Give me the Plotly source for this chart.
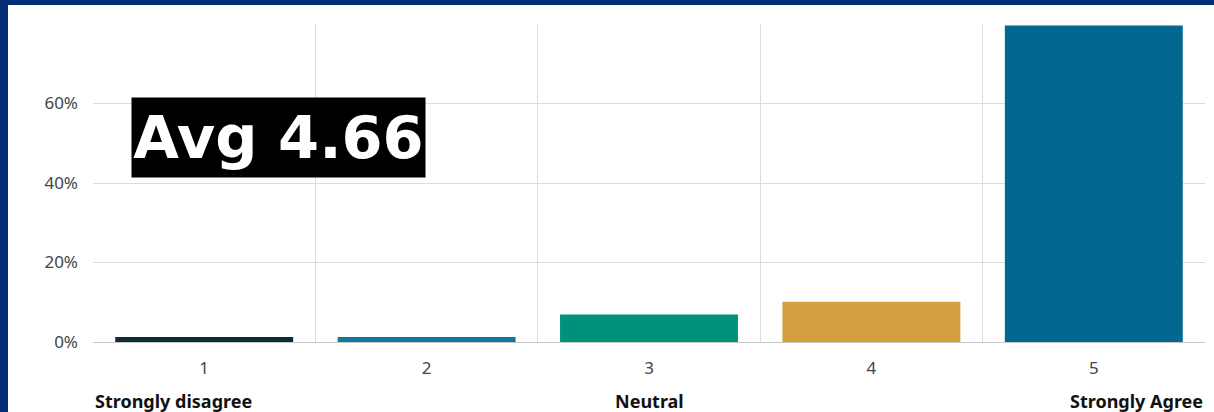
import plotly.graph_objects as go

categories = ["1", "2", "3", "4", "5"]
percent_values = [1.25, 1.25, 6.9, 10.1, 79.6]
bar_colors = ["#0c2b3b", "#10799a", "#00917c", "#d49f3e", "#026892"]
y_tick_values = [0, 20, 40, 60, 80]
y_tick_labels = ["0%", "20%", "40%", "60%", ""]
scale_labels = ["Strongly disagree", "Neutral", "Strongly Agree"]
avg_label = "Avg 4.66"

W, H = 1214, 412
ML, MR, MT, MB = 93, 9, 24, 70
PW = W - ML - MR
PH = H - MT - MB

def px_x(px):
    return (px - ML) / PW

def px_y(py):
    return (H - MB - py) / PH

NAVY = "#022d74"
TICK_FONT = "Noto Sans, Open Sans, sans-serif"

fig = go.Figure(
    go.Bar(
        x=categories,
        y=percent_values,
        marker=dict(color=bar_colors, line=dict(width=0)),
        hoverinfo="skip",
    )
)

fig.update_layout(
    width=W,
    height=H,
    margin=dict(l=ML, r=MR, t=MT, b=MB, pad=0),
    paper_bgcolor="white",
    plot_bgcolor="white",
    bargap=0.2,
    showlegend=False,
    font=dict(family=TICK_FONT, size=17, color="#444444"),
    xaxis=dict(
        type="category",
        tickson="boundaries",
        showgrid=True,
        gridcolor="#dcdcdc",
        gridwidth=1,
        showline=True,
        linecolor="#c6c6c6",
        linewidth=1,
        ticks="",
        ticklabelstandoff=11,
        tickfont=dict(size=17, color="#444444"),
        zeroline=False,
        fixedrange=True,
    ),
    yaxis=dict(
        range=[0, 80],
        tickvals=y_tick_values,
        ticktext=y_tick_labels,
        showgrid=True,
        gridcolor="#dcdcdc",
        gridwidth=1,
        zeroline=False,
        showline=False,
        ticks="",
        ticklabelstandoff=14,
        tickfont=dict(size=17, color="#444444"),
        fixedrange=True,
    ),
)

# frame decorations (navy band top and left)
fig.add_shape(type="rect", xref="paper", yref="paper",
              x0=px_x(0), x1=px_x(W), y0=px_y(5), y1=px_y(0),
              fillcolor=NAVY, line=dict(width=0), layer="above")
fig.add_shape(type="rect", xref="paper", yref="paper",
              x0=px_x(0), x1=px_x(8), y0=px_y(H), y1=px_y(0),
              fillcolor=NAVY, line=dict(width=0), layer="above")

# scale end labels
label_y = px_y(401)
for text, xpos, anchor in zip(scale_labels, [0, 0.5, 1], ["left", "center", "right"]):
    fig.add_annotation(text="<b>" + text + "</b>", xref="paper", yref="paper",
                       x=xpos, y=label_y, xanchor=anchor, yanchor="middle", showarrow=False,
                       font=dict(size=18, color="#111111", family=TICK_FONT))

# average badge
fig.add_annotation(text="<b>" + avg_label + "</b>", xref="paper", yref="paper",
                   x=px_x(131), y=px_y(137.5), xanchor="left", yanchor="middle",
                   showarrow=False, bgcolor="#000000", borderpad=0,
                   width=293, height=79, align="center", valign="middle",
                   font=dict(size=59, color="#ffffff", family="DejaVu Sans, sans-serif"))

fig.write_html(
    "out.html",
    config={"displayModeBar": False},
    post_script="document.body.style.margin='0';document.body.style.padding='0';document.body.style.overflow='hidden';",
)
